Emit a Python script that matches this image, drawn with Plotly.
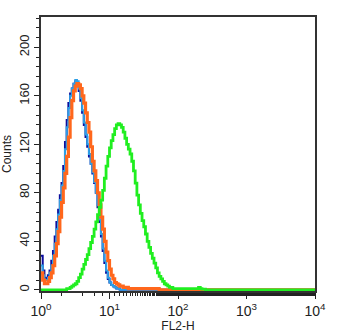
import numpy as np
import plotly.graph_objects as go

# FL2-H channel grid in decades (log10 of the intensity), 0.025-decade bins
log_channels = np.round(np.arange(0, 4.0001, 0.025), 3)

# Counts per bin for each sample (bins beyond the listed values are empty)
isotype_blue = [28, 16, 10, 9, 12, 16, 24, 32, 44, 56, 66, 78, 88, 102, 122,
                140, 154, 162, 166, 170, 172, 170, 164, 156, 146, 136, 126,
                118, 110, 104, 96, 88, 80, 68, 56, 44, 32, 22, 14, 9, 6, 4, 3,
                2, 1, 1, 0]
unstained_lightblue = [20, 12, 8, 8, 10, 14, 20, 28, 38, 50, 62, 74, 86, 98,
                       116, 134, 150, 160, 166, 170, 173, 172, 166, 158, 148,
                       138, 128, 120, 112, 104, 97, 89, 80, 70, 58, 46, 34, 24,
                       16, 10, 6, 4, 3, 2, 1, 1, 0]
control_orange = [14, 8, 5, 5, 7, 10, 14, 20, 28, 38, 48, 60, 72, 84, 96, 110,
                  126, 142, 156, 164, 168, 170, 169, 166, 160, 154, 146, 138,
                  130, 118, 106, 98, 90, 80, 70, 60, 50, 40, 31, 24, 17, 12, 9,
                  6, 5, 4, 3, 3, 2, 2, 2, 1, 1, 1, 1, 1, 1, 1, 1, 1, 1, 1, 1, 1,
                  1, 1, 1, 1, 1, 0]
antibody_green = [0, 0, 0, 0, 0, 0, 0, 0, 0, 0, 0, 0, 0, 0, 0, 1, 1, 2, 3, 4,
                  5, 7, 10, 13, 17, 21, 25, 29, 34, 39, 44, 50, 56, 62, 68, 74,
                  82, 92, 102, 110, 117, 123, 128, 133, 136, 137, 136, 134,
                  130, 125, 120, 116, 112, 106, 98, 88, 78, 70, 63, 57, 52, 46,
                  40, 35, 30, 26, 22, 18, 14, 11, 9, 7, 5, 4, 3, 2, 2, 1, 1, 1,
                  1, 1, 1, 1, 1, 1, 1, 1, 1, 1, 1, 1, 2, 1, 0.5, 0.5, 0]


def pad(counts):
    arr = np.zeros(len(log_channels))
    arr[:len(counts)] = counts
    return arr


series = [
    ("Isotype", isotype_blue, "#0c0c9c", 2.0),
    ("Unstained", unstained_lightblue, "#2c9fe6", 2.0),
    ("Control", control_orange, "#ff671c", 3.2),
    ("FL2 antibody", antibody_green, "#20ee20", 2.8),
]

fig = go.Figure()
for name, counts, color, width in series:
    fig.add_trace(go.Scatter(
        x=10 ** log_channels, y=pad(counts), mode="lines", name=name,
        line=dict(color=color, width=width, shape="hv"),
    ))

font_family = "Liberation Sans, Arial, sans-serif"
decades = [1, 10, 100, 1000, 10000]

fig.update_layout(
    width=350, height=335,
    margin=dict(l=41, r=35, t=17, b=44),
    paper_bgcolor="white", plot_bgcolor="white",
    showlegend=False,
    font=dict(family=font_family, color="#222222", size=13),
    xaxis=dict(
        type="log", range=[0, 4], automargin=False,
        tickvals=decades,
        ticktext=[f"10<sup>{i}</sup>" for i in range(5)],
        ticks="outside", ticklen=6, tickwidth=1.2, tickcolor="#222",
        minor=dict(ticks="outside", ticklen=3, tickwidth=1, tickcolor="#222",
                   showgrid=False),
        showgrid=False, zeroline=False,
        showline=True, linecolor="#333", linewidth=1.5, mirror=True,
        tickfont=dict(size=14),
        title=dict(text="FL2-H", font=dict(size=12), standoff=2),
    ),
    yaxis=dict(
        range=[-1, 225], automargin=False,
        tickvals=[0, 40, 80, 120, 160, 200],
        tickangle=-90,
        ticks="outside", ticklen=5, tickwidth=1.2, tickcolor="#222",
        minor=dict(dtick=8, ticks="outside", ticklen=3, tickwidth=1,
                   tickcolor="#222", showgrid=False),
        showgrid=False, zeroline=False,
        showline=True, linecolor="#333", linewidth=1.5, mirror=True,
        tickfont=dict(size=13),
        title=dict(text="Counts", font=dict(size=12), standoff=4),
    ),
)

fig.write_html("out.html")
